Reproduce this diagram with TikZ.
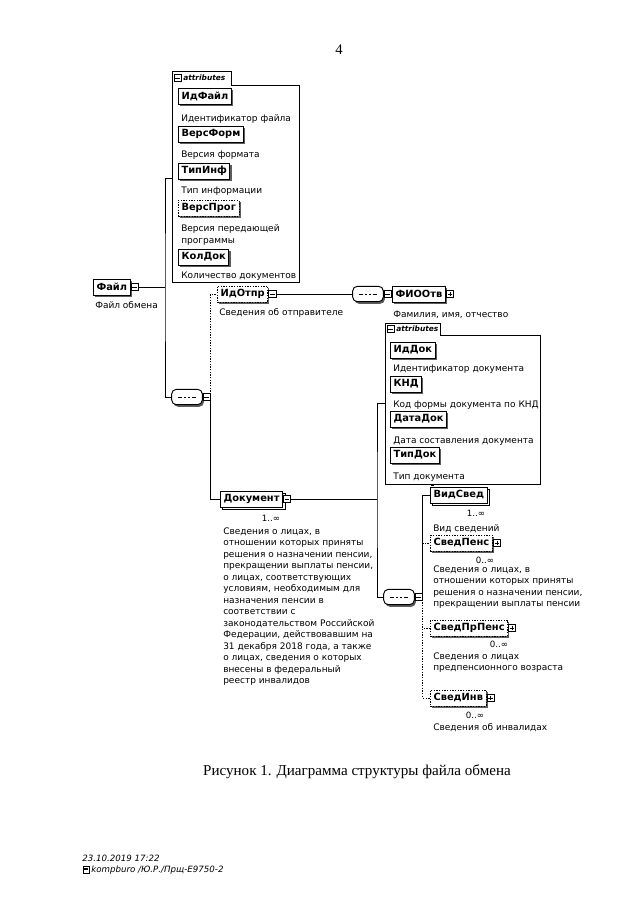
\documentclass[tikz,border=0pt]{standalone}
\usepackage{fontspec}
\setmainfont{DejaVu Sans}
\newfontfamily\capfont{Liberation Serif}
\usetikzlibrary{shadows,calc}

\tikzset{
  elem/.style={draw, fill=white, line width=0.7pt, font=\bfseries\fontsize{7.4}{8}\selectfont,
    inner xsep=2.3pt, inner ysep=2pt, minimum height=12pt,
    drop shadow={shadow xshift=1.2pt, shadow yshift=-1.6pt, fill=black!75, opacity=0.85}},
  optelem/.style={elem, dash pattern=on 1pt off 1pt},
  multielem/.style={elem, copy shadow={shadow xshift=1.8pt, shadow yshift=-1.8pt}},
  minusbox/.style={draw, fill=white, line width=0.5pt, inner sep=0pt, minimum size=5.5pt,
    path picture={\draw ([xshift=1pt]path picture bounding box.west) -- ([xshift=-1pt]path picture bounding box.east);}},
  plusbox/.style={draw, fill=white, line width=0.5pt, inner sep=0pt, minimum size=5.5pt,
    path picture={\draw ([xshift=1pt]path picture bounding box.west) -- ([xshift=-1pt]path picture bounding box.east)
      ([yshift=-1pt]path picture bounding box.north) -- ([yshift=1pt]path picture bounding box.south);}},
  seqbox/.style={draw, fill=white, line width=0.7pt, rounded corners=3.5pt,
    inner sep=0pt, minimum width=23pt, minimum height=11.5pt,
    drop shadow={shadow xshift=1.2pt, shadow yshift=-1.6pt, fill=black!75, opacity=0.85},
    path picture={
      \draw[sharp corners] ([xshift=4.5pt]path picture bounding box.west) -- ([xshift=-4.5pt]path picture bounding box.east);
      \foreach \d in {-3pt,0pt,3pt}
        \fill[sharp corners] ([xshift=\d]path picture bounding box.center) +(-0.9pt,-0.9pt) rectangle +(0.9pt,0.9pt);
    }},
  desc/.style={font=\fontsize{6.75}{8.6}\selectfont, inner sep=0pt, align=left, anchor=north west},
  occ/.style={font=\fontsize{6.5}{7}\selectfont, inner sep=0pt},
  attrtab/.style={font=\bfseries\itshape\fontsize{5.6}{6}\selectfont, inner sep=0pt},
  attrframe/.style={draw, line width=0.7pt},
  conn/.style={line width=0.7pt},
  optconn/.style={line width=0.7pt, dash pattern=on 1pt off 1pt},
  footer/.style={font=\itshape\fontsize{6.5}{7}\selectfont, inner sep=0pt}
}

\begin{document}
\begin{tikzpicture}[x=0.75pt,y=0.75pt,yscale=-1]
\useasboundingbox (0,0) rectangle (640,905);

% Page number
\node[font=\capfont\fontsize{11}{13}\selectfont] (pagenum) at (339,50) {4};

% Root element
\node[elem, anchor=west] (file) at (93,287) {Файл};
\node[minusbox, anchor=west] (fileT) at (file.east) {};
\node[desc] (fileD) at (95,301.5) {Файл обмена};

%Shape: attributes of Файл
\draw[attrframe] (231,85) -- (299,85) -- (299,282) -- (172,282) -- (172,71) -- (231,71) -- cycle;
\node[minusbox] (fileattrT) at (177.5,78) {};
\node[attrtab, anchor=west] (fileattrL) at (183,78) {attributes};
\coordinate (fileattr) at (172,178);

\node[elem, anchor=west] (idfile) at (178,96) {ИдФайл};
\node[desc] at (181,114.5) {Идентификатор файла};
\node[elem, anchor=west] (versform) at (178,134) {ВерсФорм};
\node[desc] at (181,150.5) {Версия формата};
\node[elem, anchor=west] (tipinf) at (178,171) {ТипИнф};
\node[desc] at (181,186.5) {Тип информации};
\node[optelem, anchor=west] (versprog) at (178,208) {ВерсПрог};
\node[desc] at (181,224.5) {Версия передающей\\программы};
\node[elem, anchor=west] (koldok) at (178,257) {КолДок};
\node[desc] at (181,271.5) {Количество документов};

% Sequence of Файл
\node[seqbox] (seq1) at (187,397) {};
\node[minusbox, anchor=west] (seq1T) at (seq1.east) {};

% Sender
\node[optelem, anchor=west] (idotpr) at (217,294) {ИдОтпр};
\node[minusbox, anchor=west] (idotprT) at (idotpr.east) {};
\node[desc] at (219,308.5) {Сведения об отправителе};

\node[seqbox] (seq2) at (368,294) {};
\node[minusbox, anchor=west] (seq2T) at (seq2.east) {};
\node[elem, anchor=west] (fio) at (392,294) {ФИООтв};
\node[plusbox, anchor=west] (fioT) at (fio.east) {};
\node[desc] at (393,310.5) {Фамилия, имя, отчество};

% Document
\node[multielem, anchor=west] (doc) at (220,499) {Документ};
\node[minusbox, anchor=west] (docT) at (doc.east) {};
\node[occ] at (271,518) {1..∞};
\node[desc] at (223,527.5) {Сведения о лицах, в\\отношении которых приняты\\решения о назначении пенсии,\\прекращении выплаты пенсии,\\о лицах, соответствующих\\условиям, необходимым для\\назначения пенсии в\\соответствии с\\законодательством Российской\\Федерации, действовавшим на\\31 декабря 2018 года, а также\\о лицах, сведения о которых\\внесены в федеральный\\реестр инвалидов};

%Shape: attributes of Документ
\draw[attrframe] (440,335) -- (540,335) -- (540,484) -- (385,484) -- (385,323) -- (440,323) -- cycle;
\node[minusbox] (docattrT) at (390.5,329) {};
\node[attrtab, anchor=west] (docattrL) at (396,329) {attributes};
\coordinate (docattr) at (385,403);

\node[elem, anchor=west] (iddok) at (390,350) {ИдДок};
\node[desc] at (393,364.5) {Идентификатор документа};
\node[elem, anchor=west] (knd) at (390,384) {КНД};
\node[desc] at (393,400.5) {Код формы документа по КНД};
\node[elem, anchor=west] (datadok) at (390,419) {ДатаДок};
\node[desc] at (393,436.5) {Дата составления документа};
\node[elem, anchor=west] (tipdok) at (390,455) {ТипДок};
\node[desc] at (393,472.5) {Тип документа};

% Sequence of Документ
\node[seqbox] (seq3) at (399,597) {};
\node[minusbox, anchor=west] (seq3T) at (seq3.east) {};

\node[multielem, anchor=west] (vidsved) at (430,495) {ВидСвед};
\draw[line width=0.4pt] ([xshift=1pt,yshift=-1pt]vidsved.north west) -- ++(3,0) ([xshift=1pt,yshift=-2pt]vidsved.north west) -- ++(3,0);
\node[occ] at (476,513) {1..∞};
\node[desc] at (433,524.5) {Вид сведений};

\node[optelem, anchor=west] (svedpens) at (430,543) {СведПенс};
\node[plusbox, anchor=west] (svedpensT) at (svedpens.east) {};
\node[occ] at (485,560) {0..∞};
\node[desc] at (433,565.5) {Сведения о лицах, в\\отношении которых приняты\\решения о назначении пенсии,\\прекращении выплаты пенсии};

\node[optelem, anchor=west] (svedprpens) at (430,628) {СведПрПенс};
\node[plusbox, anchor=west] (svedprpensT) at (svedprpens.east) {};
\node[occ] at (499,644) {0..∞};
\node[desc] at (433,652.5) {Сведения о лицах\\предпенсионного возраста};

\node[optelem, anchor=west] (svedinv) at (430,698) {СведИнв};
\node[plusbox, anchor=west] (svedinvT) at (svedinv.east) {};
\node[occ] at (475,715) {0..∞};
\node[desc] at (433,723.5) {Сведения об инвалидах};

% Connectors
\coordinate (trunk) at (165,287);
\draw[conn] (fileT.east) -- (trunk);
\draw[conn] (fileattr) -| (trunk) |- (seq1.west);
\draw[optconn] (seq1T.east) |- (idotpr.west);
\draw[conn] (seq1T.east) |- (doc.west);
\draw[conn] (idotprT.east) -- (seq2.west);
\draw[conn] (seq2T.east) -- (fio.west);
\coordinate (docjoin) at (377,499);
\draw[conn] (docT.east) -- (docjoin);
\draw[conn] (docattr) -| (docjoin) |- (seq3.west);
\draw[conn] (seq3T.east) |- (vidsved.west);
\draw[optconn] (seq3T.east) |- (svedpens.west);
\draw[optconn] (seq3T.east) |- (svedprpens.west);
\draw[optconn] (seq3T.east) |- (svedinv.west);

% Caption
\node[font=\capfont\fontsize{11.3}{14}\selectfont] (caption) at (357,772) {Рисунок 1. Диаграмма структуры файла обмена};

% Footer
\node[footer, anchor=west] (stamp) at (82,858) {23.10.2019 17:22};
\draw[line width=0.4pt] (83,866.5) rectangle (89,873);
\fill (84,868) rectangle (88,869.5);
\node[footer, anchor=west] (stampid) at (91,870) {kompburo /Ю.Р./Прщ-Е9750-2};
\end{tikzpicture}
\end{document}
